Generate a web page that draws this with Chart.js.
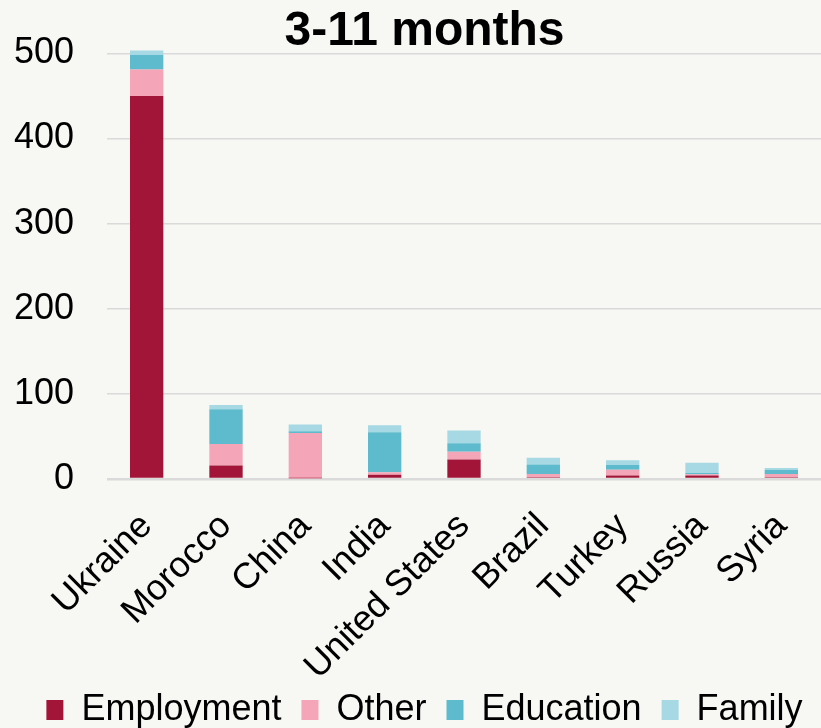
<!DOCTYPE html>
<html>
<head>
<meta charset="utf-8">
<script src="https://cdn.jsdelivr.net/npm/chart.js@4.4.1/dist/chart.umd.min.js"></script>
<style>
  html, body { margin: 0; padding: 0; background: #f7f7f3; }
  #wrap { width: 821px; height: 728px; }
</style>
</head>
<body>
<div id="wrap"><canvas id="myChart"></canvas></div>
<script>
  // values
  const countries = ['Ukraine', 'Morocco', 'China', 'India', 'United States', 'Brazil', 'Turkey', 'Russia', 'Syria'];
  const employment = [450, 16, 1, 5, 23, 2, 4, 4, 2];
  const other = [31, 25, 53, 3, 9, 4, 7, 1.5, 4];
  const education = [17, 41, 2, 47, 10, 11, 5.5, 1.5, 4.5];
  const family = [5.5, 5, 8, 8, 15, 8, 5.5, 12, 2.5];
  const yTicks = [0, 100, 200, 300, 400, 500];

  const font = "'Liberation Sans', Arial, sans-serif";

  // labels may spill out of their scale boxes (no clipping)
  const unclipLabels = {
    id: 'unclipLabels',
    afterLayout(chart) {
      chart.scales.y.left = 0;
      chart.scales.x.bottom = chart.height;
    }
  };

  const ctx = document.getElementById('myChart');
  new Chart(ctx, {
    type: 'bar',
    data: {
      labels: countries,
      datasets: [
        { label: 'Employment', data: employment, backgroundColor: '#a31538' },
        { label: 'Other', data: other, backgroundColor: '#f4a6b8' },
        { label: 'Education', data: education, backgroundColor: '#5ebbce' },
        { label: 'Family', data: family, backgroundColor: '#a6d9e4' }
      ]
    },
    plugins: [unclipLabels],
    options: {
      responsive: true,
      maintainAspectRatio: false,
      animation: false,
      layout: { padding: { left: 24, right: -4, top: 0, bottom: -10 } },
      datasets: {
        bar: { barPercentage: 0.42, categoryPercentage: 1 }
      },
      scales: {
        x: {
          stacked: true,
          afterFit: (scale) => {
            scale.height = 193;
            scale.paddingLeft = 0;
            scale.paddingRight = 0;
          },
          grid: { display: false },
          border: { display: false },
          ticks: {
            color: '#000',
            font: { family: font, size: 36 },
            minRotation: 45,
            maxRotation: 45,
            autoSkip: false,
            padding: 18
          }
        },
        y: {
          stacked: true,
          min: 0,
          max: 515,
          afterFit: (scale) => {
            scale.width = 83;
            scale.paddingTop = 0;
            scale.paddingBottom = 0;
          },
          afterBuildTicks: (scale) => { scale.ticks = yTicks.map(v => ({ value: v })); },
          grid: {
            color: '#dadada',
            lineWidth: (c) => (c.tick && c.tick.value === 0 ? 2.5 : 1.5),
            drawTicks: false
          },
          border: { display: false },
          ticks: {
            color: '#000',
            font: { family: font, size: 36 },
            padding: 33
          }
        }
      },
      plugins: {
        title: {
          display: true,
          text: '3-11 months',
          color: '#000',
          font: { family: font, size: 48, weight: 'bold' },
          padding: { top: 3, bottom: -20 }
        },
        legend: {
          position: 'bottom',
          labels: {
            color: '#000',
            font: { family: font, size: 36 },
            boxWidth: 17,
            boxHeight: 20,
            padding: 20
          }
        },
        tooltip: { enabled: false }
      }
    }
  });
</script>
</body>
</html>
